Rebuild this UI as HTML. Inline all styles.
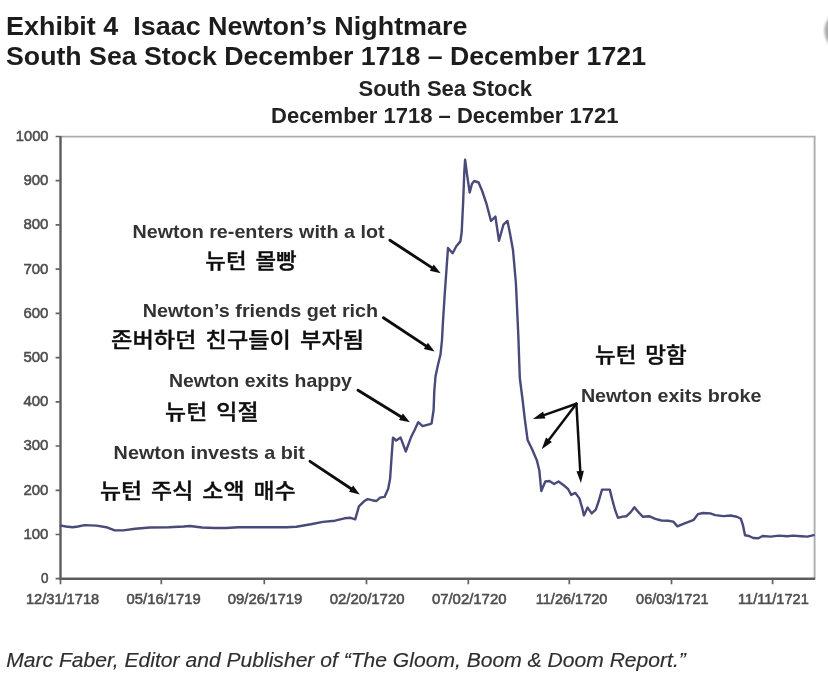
<!DOCTYPE html>
<html lang="ko">
<head>
<meta charset="utf-8">
<title>Isaac Newton’s Nightmare – South Sea Stock</title>
<style>
html,body{margin:0;padding:0;background:#fff;}
body{width:828px;height:683px;overflow:hidden;}
svg{display:block;}
text{white-space:pre;}
</style>
</head>
<body>
<svg width="828" height="683" viewBox="0 0 828 683">
<defs><filter id="soft" x="-5%" y="-5%" width="110%" height="110%"><feGaussianBlur stdDeviation="0.6"/></filter><filter id="soft2" x="-20%" y="-20%" width="140%" height="140%"><feGaussianBlur stdDeviation="0.9"/></filter></defs>
<rect x="0" y="0" width="828" height="683" fill="#ffffff"/>
<circle cx="845.2" cy="30.8" r="20.8" fill="#ababab" filter="url(#soft2)"/>
<g filter="url(#soft)">
<path d="M60.5 136.6H814.6V578.7" fill="none" stroke="#adadad" stroke-width="1.9"/>
<path d="M60.5 136.0V578.7H815.2" fill="none" stroke="#5c5c5c" stroke-width="2.4"/>
<path d="M55.6 578.7H60.5M55.6 534.5H60.5M55.6 490.3H60.5M55.6 446.0H60.5M55.6 401.8H60.5M55.6 357.6H60.5M55.6 313.4H60.5M55.6 269.2H60.5M55.6 224.9H60.5M55.6 180.7H60.5M55.6 136.5H60.5M60.5 578.7V584.3M161.3 578.7V584.3M264.3 578.7V584.3M366.5 578.7V584.3M468.3 578.7V584.3M569.3 578.7V584.3M671.5 578.7V584.3M772.6 578.7V584.3" fill="none" stroke="#626262" stroke-width="1.7"/>
<text x="41.0" y="583.1" font-size="14.4" textLength="7.5" lengthAdjust="spacingAndGlyphs" style="font-family:'Liberation Sans',Arial,Helvetica,sans-serif;fill:#4e4e4e;stroke:#4e4e4e;stroke-width:0.55">0</text>
<text x="23.4" y="538.9" font-size="14.4" textLength="25.1" lengthAdjust="spacingAndGlyphs" style="font-family:'Liberation Sans',Arial,Helvetica,sans-serif;fill:#4e4e4e;stroke:#4e4e4e;stroke-width:0.55">100</text>
<text x="23.4" y="494.7" font-size="14.4" textLength="25.1" lengthAdjust="spacingAndGlyphs" style="font-family:'Liberation Sans',Arial,Helvetica,sans-serif;fill:#4e4e4e;stroke:#4e4e4e;stroke-width:0.55">200</text>
<text x="23.4" y="450.4" font-size="14.4" textLength="25.1" lengthAdjust="spacingAndGlyphs" style="font-family:'Liberation Sans',Arial,Helvetica,sans-serif;fill:#4e4e4e;stroke:#4e4e4e;stroke-width:0.55">300</text>
<text x="23.4" y="406.2" font-size="14.4" textLength="25.1" lengthAdjust="spacingAndGlyphs" style="font-family:'Liberation Sans',Arial,Helvetica,sans-serif;fill:#4e4e4e;stroke:#4e4e4e;stroke-width:0.55">400</text>
<text x="23.4" y="362.0" font-size="14.4" textLength="25.1" lengthAdjust="spacingAndGlyphs" style="font-family:'Liberation Sans',Arial,Helvetica,sans-serif;fill:#4e4e4e;stroke:#4e4e4e;stroke-width:0.55">500</text>
<text x="23.4" y="317.8" font-size="14.4" textLength="25.1" lengthAdjust="spacingAndGlyphs" style="font-family:'Liberation Sans',Arial,Helvetica,sans-serif;fill:#4e4e4e;stroke:#4e4e4e;stroke-width:0.55">600</text>
<text x="23.4" y="273.6" font-size="14.4" textLength="25.1" lengthAdjust="spacingAndGlyphs" style="font-family:'Liberation Sans',Arial,Helvetica,sans-serif;fill:#4e4e4e;stroke:#4e4e4e;stroke-width:0.55">700</text>
<text x="23.4" y="229.3" font-size="14.4" textLength="25.1" lengthAdjust="spacingAndGlyphs" style="font-family:'Liberation Sans',Arial,Helvetica,sans-serif;fill:#4e4e4e;stroke:#4e4e4e;stroke-width:0.55">800</text>
<text x="23.4" y="185.1" font-size="14.4" textLength="25.1" lengthAdjust="spacingAndGlyphs" style="font-family:'Liberation Sans',Arial,Helvetica,sans-serif;fill:#4e4e4e;stroke:#4e4e4e;stroke-width:0.55">900</text>
<text x="15.8" y="140.9" font-size="14.4" textLength="32.7" lengthAdjust="spacingAndGlyphs" style="font-family:'Liberation Sans',Arial,Helvetica,sans-serif;fill:#4e4e4e;stroke:#4e4e4e;stroke-width:0.55">1000</text>
<text x="25.9" y="603.9" font-size="14.4" textLength="73.3" lengthAdjust="spacingAndGlyphs" style="font-family:'Liberation Sans',Arial,Helvetica,sans-serif;fill:#4e4e4e;stroke:#4e4e4e;stroke-width:0.55">12/31/1718</text>
<text x="126.6" y="603.9" font-size="14.4" textLength="74.1" lengthAdjust="spacingAndGlyphs" style="font-family:'Liberation Sans',Arial,Helvetica,sans-serif;fill:#4e4e4e;stroke:#4e4e4e;stroke-width:0.55">05/16/1719</text>
<text x="227.8" y="603.9" font-size="14.4" textLength="74.6" lengthAdjust="spacingAndGlyphs" style="font-family:'Liberation Sans',Arial,Helvetica,sans-serif;fill:#4e4e4e;stroke:#4e4e4e;stroke-width:0.55">09/26/1719</text>
<text x="329.7" y="603.9" font-size="14.4" textLength="74.9" lengthAdjust="spacingAndGlyphs" style="font-family:'Liberation Sans',Arial,Helvetica,sans-serif;fill:#4e4e4e;stroke:#4e4e4e;stroke-width:0.55">02/20/1720</text>
<text x="431.9" y="603.9" font-size="14.4" textLength="74.6" lengthAdjust="spacingAndGlyphs" style="font-family:'Liberation Sans',Arial,Helvetica,sans-serif;fill:#4e4e4e;stroke:#4e4e4e;stroke-width:0.55">07/02/1720</text>
<text x="535.8" y="603.9" font-size="14.4" textLength="71.6" lengthAdjust="spacingAndGlyphs" style="font-family:'Liberation Sans',Arial,Helvetica,sans-serif;fill:#4e4e4e;stroke:#4e4e4e;stroke-width:0.55">11/26/1720</text>
<text x="636.1" y="603.9" font-size="14.4" textLength="72.4" lengthAdjust="spacingAndGlyphs" style="font-family:'Liberation Sans',Arial,Helvetica,sans-serif;fill:#4e4e4e;stroke:#4e4e4e;stroke-width:0.55">06/03/1721</text>
<text x="738.0" y="603.9" font-size="14.4" textLength="70.8" lengthAdjust="spacingAndGlyphs" style="font-family:'Liberation Sans',Arial,Helvetica,sans-serif;fill:#4e4e4e;stroke:#4e4e4e;stroke-width:0.55">11/11/1721</text>
<polyline points="61,525.6 66,526.5 72.5,527.2 78,526.5 84.5,525.1 96.6,525.6 106.3,527.2 114.7,530.4 123.2,530.4 135.3,528.7 149.8,527.5 169.1,527.2 183.6,526.5 190,526 202,527.5 214.2,528 226.2,528 238.3,527.2 262.5,527.2 286.6,527.2 296.3,526.8 310.8,524.3 322.9,521.9 334.9,520.7 344.6,518.3 350.6,517.8 355.2,519.3 358.9,506.4 364,501.3 367.7,499.1 372.1,500.2 376.5,501 380.1,497.6 384.5,496.9 388.2,488.8 390.1,478.6 391.6,456.6 393,437.6 396.2,440.5 400.6,437.6 405.8,451.5 410.9,437.6 414.5,430.2 418.2,422.2 422.6,426.1 429.9,424.1 431.6,423.3 433.6,410 434.3,391 435.5,376.5 437.7,366 440.5,354.5 442,340 442.9,323 444.6,296 448,248 452.6,253.3 456.3,246.2 460.4,241.4 461.7,232 463.2,201 464.3,172 465.1,159.6 467.3,176.4 469.7,192.5 472,183.7 474.2,181 478.6,182.5 482.2,191 486.6,204.2 491,221 495.4,216.6 499,240.8 503.4,224.7 507.5,221 510,233.5 513,250 515.9,283 518.3,335 519.8,378 522.6,400 524.8,419 527.6,440 532.1,449.2 536.9,460.5 539.3,470.2 541.3,491 545.3,481.5 549.4,481 554.2,484 558.5,481.5 564,485.5 568.2,489.2 571.2,494.9 575.3,492.9 579.4,498.4 582.1,507.6 583.9,515.4 587.6,507.6 591.7,513.4 595.8,509.7 598.9,500.5 602,489.6 609.8,489.6 612.2,499.4 615.3,510.7 618,517.9 622.5,516.6 626.6,516.2 630.7,512.1 634.4,507.2 638.9,512.7 643,516.8 649.1,516.2 655.3,518.9 661.4,520.5 668.2,520.8 673.3,521.6 677.4,526.4 684.6,523.3 693.8,519.8 697.9,514.1 703,513 710.2,513.4 715.3,515.1 723.5,516.1 730.7,515.5 736.8,516.7 740.9,518.8 743,525.3 745,535.2 749.1,536 753.2,538 758.4,538.2 762.5,536 770.7,536.6 778.9,535.6 787,536.2 793.2,535.6 801.4,536.2 807.5,536.6 813.7,535.2" fill="none" stroke="#48487a" stroke-width="2.4" stroke-linejoin="round" stroke-linecap="round"/>
<line x1="389.9" y1="240.2" x2="432.6" y2="268.1" stroke="#111" stroke-width="2.9" stroke-linecap="round"/><polygon points="440.6,273.3 429.8,270.7 433.8,264.5" fill="#111"/>
<line x1="383.4" y1="317.8" x2="426.7" y2="346.4" stroke="#111" stroke-width="2.9" stroke-linecap="round"/><polygon points="434.6,351.6 423.8,348.9 427.9,342.7" fill="#111"/>
<line x1="358.0" y1="390.2" x2="401.8" y2="417.3" stroke="#111" stroke-width="2.9" stroke-linecap="round"/><polygon points="409.9,422.3 399.0,419.9 402.9,413.6" fill="#111"/>
<line x1="310.0" y1="461.4" x2="351.9" y2="489.2" stroke="#111" stroke-width="2.9" stroke-linecap="round"/><polygon points="359.8,494.4 349.0,491.7 353.1,485.5" fill="#111"/>
<line x1="576.4" y1="403.8" x2="543.3" y2="415.4" stroke="#111" stroke-width="2.5" stroke-linecap="round"/><polygon points="532.9,419.0 543.0,411.5 545.4,418.5" fill="#111"/>
<line x1="576.4" y1="403.8" x2="548.4" y2="440.5" stroke="#111" stroke-width="2.5" stroke-linecap="round"/><polygon points="541.7,449.2 546.0,437.4 551.9,441.9" fill="#111"/>
<line x1="576.4" y1="403.8" x2="580.3" y2="472.0" stroke="#111" stroke-width="2.5" stroke-linecap="round"/><polygon points="580.9,483.0 576.5,471.2 583.9,470.8" fill="#111"/>
<text x="6.0" y="35.4" font-size="26.5" textLength="461.5" lengthAdjust="spacingAndGlyphs" style="font-family:'Liberation Sans',Arial,Helvetica,sans-serif;font-weight:700;fill:#1f1f1f">Exhibit 4  Isaac Newton’s Nightmare</text>
<text x="6.0" y="65.4" font-size="26.5" textLength="640" lengthAdjust="spacingAndGlyphs" style="font-family:'Liberation Sans',Arial,Helvetica,sans-serif;font-weight:700;fill:#1f1f1f">South Sea Stock December 1718 – December 1721</text>
<text x="358.5" y="96.4" font-size="22" textLength="173.5" lengthAdjust="spacingAndGlyphs" style="font-family:'Liberation Sans',Arial,Helvetica,sans-serif;font-weight:700;fill:#222">South Sea Stock</text>
<text x="271.0" y="123.3" font-size="22" textLength="347.5" lengthAdjust="spacingAndGlyphs" style="font-family:'Liberation Sans',Arial,Helvetica,sans-serif;font-weight:700;fill:#222">December 1718 – December 1721</text>
<text x="132.5" y="237.8" font-size="19" textLength="252" lengthAdjust="spacingAndGlyphs" style="font-family:'Liberation Sans',Arial,Helvetica,sans-serif;font-weight:700;fill:#333">Newton re-enters with a lot</text>
<text x="142.7" y="316.5" font-size="19" textLength="235.5" lengthAdjust="spacingAndGlyphs" style="font-family:'Liberation Sans',Arial,Helvetica,sans-serif;font-weight:700;fill:#333">Newton’s friends get rich</text>
<text x="168.9" y="386.5" font-size="19" textLength="183" lengthAdjust="spacingAndGlyphs" style="font-family:'Liberation Sans',Arial,Helvetica,sans-serif;font-weight:700;fill:#333">Newton exits happy</text>
<text x="113.6" y="459.0" font-size="19" textLength="191.3" lengthAdjust="spacingAndGlyphs" style="font-family:'Liberation Sans',Arial,Helvetica,sans-serif;font-weight:700;fill:#333">Newton invests a bit</text>
<text x="580.9" y="402.0" font-size="19" textLength="180.5" lengthAdjust="spacingAndGlyphs" style="font-family:'Liberation Sans',Arial,Helvetica,sans-serif;font-weight:700;fill:#333">Newton exits broke</text>
<text x="205.3" y="268.4" font-size="21" textLength="91.3" lengthAdjust="spacingAndGlyphs" style="font-family:'Liberation Sans','Noto Sans CJK KR','NanumGothic',sans-serif;font-weight:500;fill:#0a0a0a;stroke:#0a0a0a;stroke-width:0.3;word-spacing:2.5px">뉴턴 몰빵</text>
<text x="111.1" y="347.2" font-size="21" textLength="253" lengthAdjust="spacingAndGlyphs" style="font-family:'Liberation Sans','Noto Sans CJK KR','NanumGothic',sans-serif;font-weight:500;fill:#0a0a0a;stroke:#0a0a0a;stroke-width:0.3;word-spacing:2.5px">존버하던 친구들이 부자됨</text>
<text x="165.1" y="418.5" font-size="21" textLength="93.4" lengthAdjust="spacingAndGlyphs" style="font-family:'Liberation Sans','Noto Sans CJK KR','NanumGothic',sans-serif;font-weight:500;fill:#0a0a0a;stroke:#0a0a0a;stroke-width:0.3;word-spacing:2.5px">뉴턴 익절</text>
<text x="99.9" y="498.2" font-size="21" textLength="195.8" lengthAdjust="spacingAndGlyphs" style="font-family:'Liberation Sans','Noto Sans CJK KR','NanumGothic',sans-serif;font-weight:500;fill:#0a0a0a;stroke:#0a0a0a;stroke-width:0.3;word-spacing:2.5px">뉴턴 주식 소액 매수</text>
<text x="595.0" y="362.4" font-size="21" textLength="91.8" lengthAdjust="spacingAndGlyphs" style="font-family:'Liberation Sans','Noto Sans CJK KR','NanumGothic',sans-serif;font-weight:500;fill:#0a0a0a;stroke:#0a0a0a;stroke-width:0.3;word-spacing:2.5px">뉴턴 망함</text>
<text x="6.2" y="667.4" font-size="19.5" textLength="679.6" lengthAdjust="spacingAndGlyphs" style="font-family:'Liberation Sans',Arial,Helvetica,sans-serif;font-style:italic;fill:#2e2e2e;stroke:#2e2e2e;stroke-width:0.15">Marc Faber, Editor and Publisher of “The Gloom, Boom &amp; Doom Report.”</text>
</g>
</svg>
</body>
</html>
